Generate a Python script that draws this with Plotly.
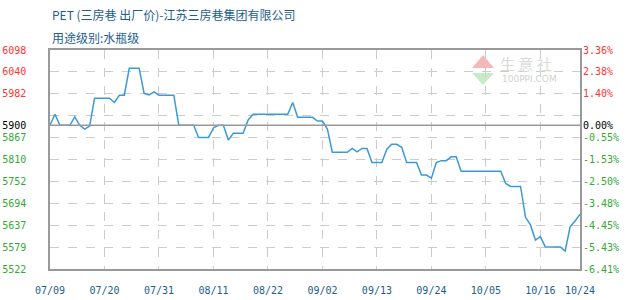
import plotly.graph_objects as go

# ---- data ----
dates = [
    "2019-07-09", "2019-07-10", "2019-07-11", "2019-07-13", "2019-07-14", "2019-07-15",
    "2019-07-16", "2019-07-17", "2019-07-18", "2019-07-21", "2019-07-22", "2019-07-23",
    "2019-07-24", "2019-07-25", "2019-07-27", "2019-07-28", "2019-07-29", "2019-07-30",
    "2019-07-31", "2019-08-03", "2019-08-04", "2019-08-07", "2019-08-08", "2019-08-10",
    "2019-08-11", "2019-08-12", "2019-08-13", "2019-08-14", "2019-08-15", "2019-08-17",
    "2019-08-18", "2019-08-19", "2019-08-26", "2019-08-27", "2019-08-28", "2019-08-31",
    "2019-09-01", "2019-09-02", "2019-09-03", "2019-09-04", "2019-09-07", "2019-09-08",
    "2019-09-09", "2019-09-10", "2019-09-11", "2019-09-12", "2019-09-14", "2019-09-15",
    "2019-09-16", "2019-09-17", "2019-09-18", "2019-09-19", "2019-09-21", "2019-09-22",
    "2019-09-23", "2019-09-24", "2019-09-25", "2019-09-26", "2019-09-27", "2019-09-28",
    "2019-09-29", "2019-09-30", "2019-10-08", "2019-10-09", "2019-10-10", "2019-10-12",
    "2019-10-13", "2019-10-14", "2019-10-15", "2019-10-16", "2019-10-17", "2019-10-20",
    "2019-10-21", "2019-10-22", "2019-10-23", "2019-10-24",
]
prices = [
    5900, 5929, 5900, 5900, 5922, 5900,
    5890, 5898, 5971, 5971, 5960, 5979,
    5979, 6050, 6050, 5984, 5980, 5988,
    5979, 5979, 5900, 5900, 5868, 5868,
    5893, 5900, 5900, 5861, 5879, 5879,
    5914, 5929, 5929, 5960, 5921, 5921,
    5911, 5911, 5890, 5829, 5829, 5839,
    5830, 5839, 5839, 5802, 5802, 5837,
    5850, 5850, 5842, 5802, 5802, 5769,
    5769, 5761, 5802, 5807, 5807, 5817,
    5817, 5779, 5779, 5747, 5739, 5739,
    5658, 5638, 5598, 5607, 5580, 5580,
    5569, 5633, 5648, 5666,
]

base_price = 5900
y_min, y_max = 5522, 6098
grid_vals = [5522, 5579.6, 5637.2, 5694.8, 5752.4, 5810, 5867.6, 5925.2, 5982.8, 6040.4, 6098]
left_labels = ["5522", "5579", "5637", "5694", "5752", "5810", "5867", "", "5982", "6040", "6098"]
right_labels = ["-6.41%", "-5.43%", "-4.45%", "-3.48%", "-2.50%", "-1.53%", "-0.55%", "", "1.40%", "2.38%", "3.36%"]

x_tick_dates = ["2019-07-09", "2019-07-20", "2019-07-31", "2019-08-11", "2019-08-22", "2019-09-02",
                "2019-09-13", "2019-09-24", "2019-10-05", "2019-10-16", "2019-10-24"]
x_tick_text = ["07/09", "07/20", "07/31", "08/11", "08/22", "09/02", "09/13", "09/24", "10/05", "10/16", "10/24"]

title_1 = "PET (三房巷 出厂价)-江苏三房巷集团有限公司"
title_2 = "用途级别:水瓶级"

RED, GREEN, BLACK, BLUE = "#ff3333", "#33aa33", "#000000", "#1d5e8e"


def colored(vals, labels):
    out = []
    for v, t in zip(vals, labels):
        if t == "":
            out.append("")
            continue
        if abs(v - base_price) < 1e-6:
            c = BLACK
        elif v > base_price:
            c = RED
        else:
            c = GREEN
        out.append(f"<span style='color:{c}'>{t}</span>")
    return out


tick_vals = grid_vals + [base_price]
left_text = colored(grid_vals, left_labels) + [colored([base_price], ["5900"])[0]]
right_text = colored(grid_vals, right_labels) + [colored([base_price], ["0.00%"])[0]]

fig = go.Figure()
fig.add_trace(go.Scatter(x=dates, y=prices, mode="lines",
                         line=dict(color="#3a9ad9", width=1.5), hoverinfo="skip", showlegend=False))
fig.add_trace(go.Scatter(x=dates, y=prices, mode="lines", yaxis="y2",
                         line=dict(color="rgba(0,0,0,0)", width=0), hoverinfo="skip", showlegend=False))


def px_x(p):
    return (p - 50) / 530


def px_y(p):
    return (269 - p) / 219


tri_up = f"M {px_x(472)} {px_y(68)} L {px_x(494)} {px_y(68)} L {px_x(483)} {px_y(55)} Z"
tri_dn = f"M {px_x(472)} {px_y(73)} L {px_x(494)} {px_y(73)} L {px_x(483)} {px_y(85)} Z"

tick_font = dict(family="DejaVu Sans Mono", size=10)

fig.update_layout(
    width=630, height=300,
    margin=dict(l=50, r=50, t=50, b=31, autoexpand=False),
    paper_bgcolor="white", plot_bgcolor="white",
    xaxis=dict(
        type="date", range=["2019-07-09", "2019-10-24"], automargin=False,
        tickmode="array", tickvals=x_tick_dates, ticktext=x_tick_text,
        tickfont=dict(family="DejaVu Sans Mono", size=10, color=BLUE),
        showgrid=True, gridcolor="#cccccc", griddash="dash", gridwidth=1,
        showline=True, linecolor="#999999", linewidth=1.5, mirror=True,
        ticks="", ticklabelstandoff=11, zeroline=False,
    ),
    yaxis=dict(
        range=[y_min, y_max], automargin=False,
        tickmode="array", tickvals=tick_vals, ticktext=left_text,
        tickfont=tick_font,
        showgrid=True, gridcolor="#cccccc", griddash="dash", gridwidth=1,
        showline=True, linecolor="#999999", linewidth=1.5, mirror=True,
        ticks="", ticklabelstandoff=20, zeroline=False,
    ),
    yaxis2=dict(
        range=[y_min, y_max], overlaying="y", side="right", automargin=False,
        tickmode="array", tickvals=tick_vals, ticktext=right_text,
        tickfont=tick_font, showgrid=False, zeroline=False, showline=False,
        ticks="", ticklabelstandoff=2,
    ),
    annotations=[
        dict(text=title_1, xref="paper", yref="paper", x=0, y=1 + (50 - 15) / 219,
             xanchor="left", yanchor="middle", showarrow=False,
             font=dict(family="Noto Sans CJK SC", size=12, color=BLUE)),
        dict(text=title_2, xref="paper", yref="paper", x=0, y=1 + (50 - 37) / 219,
             xanchor="left", yanchor="middle", showarrow=False,
             font=dict(family="Noto Sans CJK SC", size=12, color=BLUE)),
        dict(text="生 意 社", xref="paper", yref="paper", x=px_x(526), y=px_y(63),
             xanchor="center", yanchor="middle", showarrow=False,
             font=dict(family="Noto Sans CJK SC", size=15, color="#d6dcd6")),
        dict(text="100PPI.COM", xref="paper", yref="paper", x=px_x(529), y=px_y(79),
             xanchor="center", yanchor="middle", showarrow=False,
             font=dict(family="DejaVu Sans", size=9, color="#d0d0d0")),
    ],
    shapes=[
        dict(type="line", xref="paper", x0=0, x1=1, yref="y", y0=base_price, y1=base_price,
             line=dict(color="#999999", width=1.5), layer="above"),
        dict(type="path", xref="paper", yref="paper", path=tri_up,
             fillcolor="#f4b8b8", line=dict(width=0), layer="below"),
        dict(type="path", xref="paper", yref="paper", path=tri_dn,
             fillcolor="#c6ebc8", line=dict(width=0), layer="below"),
    ],
)

fig.write_html("out.html")
